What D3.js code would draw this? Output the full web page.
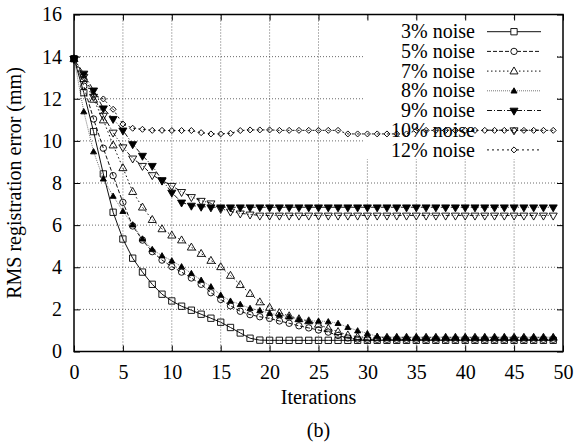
<!DOCTYPE html>
<html><head><meta charset="utf-8">
<script src="https://cdn.jsdelivr.net/npm/d3@7"></script>
<style>body{margin:0;background:#fff}svg{display:block}text{font-family:"Liberation Serif","Times New Roman",serif;fill:#000}</style>
</head><body><svg id="c" width="575" height="442"></svg>
<script>
const iterations = d3.range(0, 50);
const seriesNames = ["3% noise","5% noise","7% noise","8% noise","9% noise","10% noise","12% noise"];
const fill = (v, n) => Array(n).fill(v);
const s3 = [13.9,12.29,10.44,8.43,6.61,5.34,4.43,3.77,3.19,2.72,2.40,2.15,1.96,1.77,1.58,1.39,1.14,0.88,0.63,0.54, ...fill(0.53,30)];
const s5 = [13.9,12.6,11.04,9.65,8.35,7.08,5.96,5.29,4.74,4.34,4.03,3.77,3.49,3.19,2.79,2.47,2.17,1.91,1.75,1.65,1.57,1.45,1.34,1.22,1.12,1.02,0.92,0.76,0.64,0.59, ...fill(0.58,20)];
const s7 = [13.9,12.95,11.97,10.99,9.8,8.72,7.59,6.85,6.26,5.82,5.52,5.29,4.95,4.65,4.32,4.02,3.61,3.17,2.75,2.35,2.09,1.84,1.69,1.55,1.45,1.29,1.1,0.94,0.78,0.70, ...fill(0.67,20)];
const s8 = [13.9,11.39,9.49,8.2,7.38,6.66,6.02,5.35,4.85,4.55,4.31,4.03,3.71,3.39,3.08,2.68,2.4,2.24,2.05,1.95,1.82,1.73,1.65,1.53,1.45,1.45,1.42,1.34,1.15,0.99,0.86,0.72, ...fill(0.68,18)];
const s9 = [13.9,13.2,12.4,11.55,11.05,10.5,9.85,9.3,8.82,8.14,7.55,7.08,6.93,6.88, ...fill(6.85,36)];
const s10 = [13.9,13.05,12.1,11.2,10.4,9.7,9.17,8.82,8.38,8.12,7.87,7.58,7.34,7.16,7.04,6.78,6.65,6.56,6.51,6.46, ...fill(6.46,30)];
const s12 = [13.9,13.1,12.18,11.99,11.5,10.8,10.6,10.55,10.5,10.5,10.49,10.49,10.49,10.39,10.33,10.33,10.36,10.49,10.52,10.52,10.52,10.5, ...fill(10.5,6), ...fill(10.33,7), ...fill(10.5,15)];
const xTicks = d3.range(0, 51, 5);
const yTicks = d3.range(0, 17, 2);
const xLabel = "Iterations", yLabel = "RMS registration error (mm)", caption = "(b)";

const seriesValues = [s3,s5,s7,s8,s9,s10,s12];
const styles = [
  {dash:null, sym:"square", fill:"none", size:40},
  {dash:"4,2", sym:"circle", fill:"none", size:32},
  {dash:"1.5,2.5", sym:"tri", fill:"none", size:28},
  {dash:"1,1", sym:"tri", fill:"#000", size:16, stroke:"#777"},
  {dash:"5,2,1,2", sym:"tridown", fill:"#000", size:28},
  {dash:"4,2,1,2,1,2", sym:"tridown", fill:"none", size:28},
  {dash:"2,3", sym:"diamond", fill:"none", size:18}
];

const FS = 20;
const L=74, R=563, T=14.5, B=351.5;
const svg = d3.select("#c");
const x = d3.scaleLinear().domain([0,50]).range([L,R]);
const y = d3.scaleLinear().domain([0,16]).range([B,T]);

// grid
const g = svg.append("g");
g.selectAll(".gx").data(xTicks.slice(1,-1)).enter().append("line")
 .attr("x1",d=>x(d)).attr("x2",d=>x(d)).attr("y1",T).attr("y2",B)
 .attr("stroke","#444").attr("stroke-width",0.8).attr("stroke-dasharray","1,2");
g.selectAll(".gy").data(yTicks.slice(1,-1)).enter().append("line")
 .attr("y1",d=>y(d)).attr("y2",d=>y(d)).attr("x1",L).attr("x2",R)
 .attr("stroke","#444").attr("stroke-width",0.8).attr("stroke-dasharray","1,2");

// opaque legend box
svg.append("rect").attr("x",365).attr("y",19).attr("width",190).attr("height",140).attr("fill","#fff");

// axes
const ax = svg.append("g");
ax.append("g").attr("transform",`translate(0,${B})`).call(d3.axisBottom(x).tickValues(xTicks).tickSize(-6).tickPadding(13))
  .call(s=>{s.select(".domain").remove(); s.selectAll("text").attr("font-size",FS);});
ax.append("g").attr("transform",`translate(0,${T})`).call(d3.axisTop(x).tickValues(xTicks).tickSize(-6).tickFormat(""))
  .call(s=>s.select(".domain").remove());
ax.append("g").attr("transform",`translate(${L},0)`).call(d3.axisLeft(y).tickValues(yTicks).tickSize(-6).tickPadding(12))
  .call(s=>{s.select(".domain").remove(); s.selectAll("text").attr("font-size",FS);});
ax.append("g").attr("transform",`translate(${R},0)`).call(d3.axisRight(y).tickValues(yTicks).tickSize(-6).tickFormat(""))
  .call(s=>s.select(".domain").remove());
ax.selectAll(".tick line").attr("stroke","#000").attr("stroke-width",1);

function symPath(kind, size){
  if(kind==="square") return d3.symbol(d3.symbolSquare,size)();
  if(kind==="circle") return d3.symbol(d3.symbolCircle,size)();
  if(kind==="tri" || kind==="tridown") return d3.symbol(d3.symbolTriangle,size)();
  if(kind==="diamond") return d3.symbol(d3.symbolSquare,size)();
}
function symTransform(kind, px, py){
  if(kind==="tridown") return `translate(${px},${py}) rotate(180)`;
  if(kind==="diamond") return `translate(${px},${py}) rotate(45)`;
  if(kind==="tri") return `translate(${px},${py+0.5})`;
  return `translate(${px},${py})`;
}

// legend
const leg = svg.append("g");
seriesNames.forEach((name,k)=>{
  const st = styles[k];
  const cy = 31.7 + k*19.7;
  leg.append("text").attr("x",475).attr("y",cy).attr("dy","0.33em").attr("text-anchor","end")
    .attr("font-size",FS).text(name);
  leg.append("line").attr("x1",487).attr("x2",541).attr("y1",cy).attr("y2",cy)
    .attr("stroke", st.stroke||"#111").attr("stroke-width",1).attr("stroke-dasharray",st.dash);
  leg.append("path").attr("d",symPath(st.sym,st.size)).attr("transform",symTransform(st.sym,514,cy))
    .attr("fill", st.fill==="none" ? "#fff" : st.fill).attr("stroke","#000").attr("stroke-width",0.9);
});

const line = d3.line().x((d,i)=>x(iterations[i])).y(d=>y(d));
const plot = svg.append("g");
seriesValues.forEach((vals, k)=>{
  const st = styles[k];
  plot.append("path").datum(vals).attr("d",line).attr("fill","none")
    .attr("stroke", st.stroke||"#111").attr("stroke-width",1)
    .attr("stroke-dasharray", st.dash);
  plot.selectAll(null).data(vals).enter().append("path")
    .attr("d", symPath(st.sym, st.size))
    .attr("transform",(d,i)=>symTransform(st.sym, x(iterations[i]), y(d)))
    .attr("fill", st.fill==="none" ? "#fff" : st.fill).attr("fill-opacity", st.fill==="none"?0:1)
    .attr("stroke","#000").attr("stroke-width",0.9);
});

// frame
svg.append("rect").attr("x",L).attr("y",T).attr("width",R-L).attr("height",B-T)
  .attr("fill","none").attr("stroke","#000").attr("stroke-width",1.5);

// labels
svg.append("text").attr("x",(L+R)/2).attr("y",404).attr("text-anchor","middle").attr("font-size",FS).text(xLabel);
svg.append("text").attr("x",(L+R)/2).attr("y",437).attr("text-anchor","middle").attr("font-size",FS).text(caption);
svg.append("text").attr("transform",`translate(21,${(T+B)/2}) rotate(-90)`).attr("text-anchor","middle").attr("font-size",FS).text(yLabel);
</script></body></html>
